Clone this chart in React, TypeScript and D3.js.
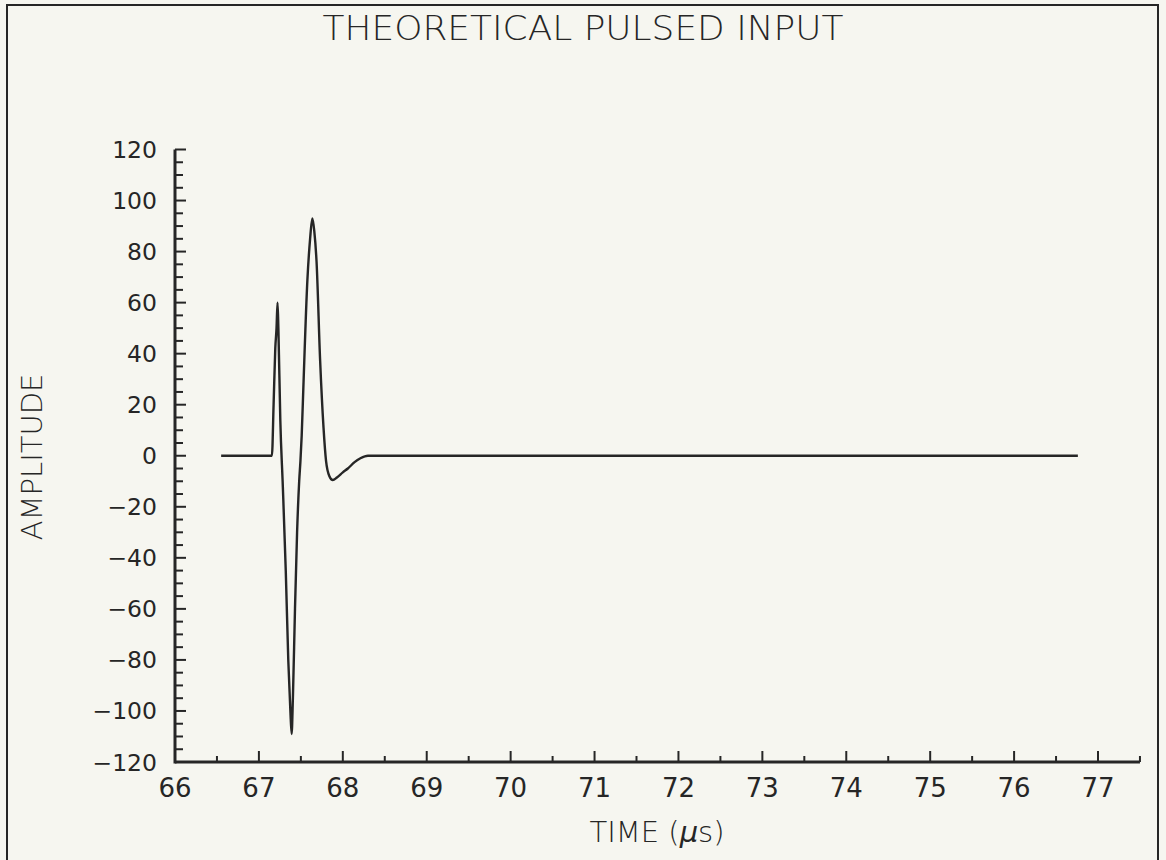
import React from "react";
import * as d3 from "d3";

const TITLE = "THEORETICAL PULSED INPUT";
const X_LABEL_PARTS = ["TIME (", "\u03bc", "s)"];
const Y_LABEL = "AMPLITUDE";

const xTicks = [66, 67, 68, 69, 70, 71, 72, 73, 74, 75, 76, 77];
const yTicks = [-120, -100, -80, -60, -40, -20, 0, 20, 40, 60, 80, 100, 120];

// time (µs)
const timeValues = [
  66.55, 67.155, 67.175, 67.195, 67.21, 67.222, 67.232, 67.255, 67.285, 67.32,
  67.35, 67.375, 67.39, 67.405, 67.43, 67.455, 67.48, 67.495, 67.51, 67.53,
  67.578, 67.61, 67.637, 67.66, 67.687, 67.73, 67.77, 67.8, 67.84, 67.88,
  67.93, 68.0, 68.06, 68.14, 68.21, 68.3, 76.76,
];
// amplitude
const ampValues = [
  0, 0, 20, 42, 50, 60, 50, 14, -12, -45,
  -80, -100, -109, -95, -60, -30, -10, -2, 8, 27,
  69, 85, 93, 88, 76, 37, 11, -2, -8, -9.5,
  -8.5, -6.5, -5, -2.5, -1, 0, 0,
];

export default function App() {
  const W = 1166;
  const H = 860;
  const x = d3.scaleLinear().domain([66, 77]).range([175, 1098]);
  const y = d3.scaleLinear().domain([-120, 120]).range([762, 149.5]);

  const data = timeValues.map((t, i) => ({ t, a: ampValues[i] }));
  const line = d3
    .line<{ t: number; a: number }>()
    .x((d) => x(d.t))
    .y((d) => y(d.a))
    .curve(d3.curveMonotoneX);

  const xMinor = d3.range(66.5, 77.51, 1);
  const yMinor = d3.range(-115, 120, 5).filter((v) => v % 20 !== 0);
  const ink = "#262626";
  const xEnd = x(77.5);
  const thin = "DejaVu Sans, sans-serif";

  return (
    <svg
      width={W}
      height={H}
      style={{ position: "absolute", left: 0, top: 0, background: "#f6f6f0" }}
    >
      <rect x={0} y={0} width={W} height={H} fill="#f6f6f0" />
      <rect x={7} y={5} width={1151} height={880} fill="none" stroke={ink} strokeWidth={2} />

      <text
        x={583}
        y={40}
        textAnchor="middle"
        fontFamily={thin}
        fontWeight={200}
        fontSize={33}
        fill={ink}
        textLength={521}
        lengthAdjust="spacingAndGlyphs"
      >
        {TITLE}
      </text>

      {/* axes */}
      <line x1={x(66)} x2={xEnd} y1={y(-120)} y2={y(-120)} stroke={ink} strokeWidth={3} />
      <line x1={x(66)} x2={x(66)} y1={y(-120) + 1.5} y2={y(120)} stroke={ink} strokeWidth={3} />

      {xTicks.map((t) => (
        <g key={"xt" + t}>
          <line x1={x(t)} x2={x(t)} y1={y(-120)} y2={y(-120) - 11} stroke={ink} strokeWidth={2} />
          <text
            x={x(t)}
            y={797}
            textAnchor="middle"
            fontFamily="DejaVu Sans, sans-serif"
            fontSize={26}
            fill={ink}
          >
            {t}
          </text>
        </g>
      ))}
      {xMinor.map((t) => (
        <line key={"xm" + t} x1={x(t)} x2={x(t)} y1={y(-120)} y2={y(-120) - 6} stroke={ink} strokeWidth={2} />
      ))}

      {yTicks.map((v) => (
        <g key={"yt" + v}>
          <line x1={x(66)} x2={x(66) + 11} y1={y(v)} y2={y(v)} stroke={ink} strokeWidth={2} />
          <text
            x={157}
            y={y(v) + 8.5}
            textAnchor="end"
            fontFamily="DejaVu Sans, sans-serif"
            fontSize={23.5}
            fill={ink}
          >
            {v < 0 ? "\u2212" + Math.abs(v) : String(v)}
          </text>
        </g>
      ))}
      {yMinor.map((v) => (
        <line key={"ym" + v} x1={x(66)} x2={x(66) + 8} y1={y(v)} y2={y(v)} stroke={ink} strokeWidth={2} />
      ))}

      <text
        x={657}
        y={842}
        textAnchor="middle"
        fontFamily={thin}
        fontWeight={200}
        fontSize={29}
        fill={ink}
      >
        {X_LABEL_PARTS[0]}
        <tspan fontStyle="italic">{X_LABEL_PARTS[1]}</tspan>
        {X_LABEL_PARTS[2]}
      </text>
      <text
        transform={`translate(42, 457) rotate(-90)`}
        textAnchor="middle"
        fontFamily={thin}
        fontWeight={200}
        fontSize={29}
        fill={ink}
      >
        {Y_LABEL}
      </text>

      <path d={line(data) || ""} fill="none" stroke={ink} strokeWidth={2.4} strokeLinejoin="round" />
    </svg>
  );
}
